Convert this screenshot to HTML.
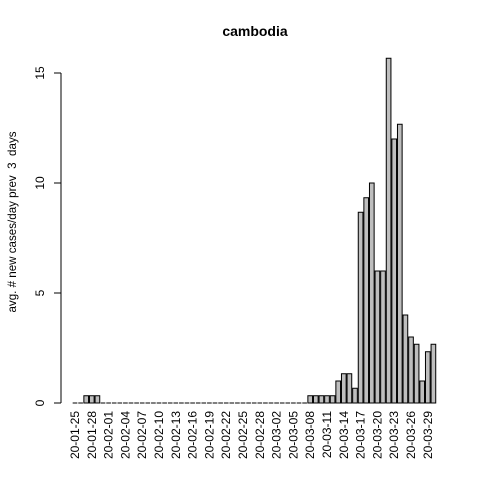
<!DOCTYPE html>
<html><head><meta charset="utf-8"><style>body{margin:0;background:#fff}svg{display:block}text{font-family:"Liberation Sans",sans-serif}</style></head>
<body>
<svg id="chart" width="480" height="480" xmlns="http://www.w3.org/2000/svg">
<rect width="480" height="480" fill="#fff"/>
<text x="255" y="36" font-size="14" font-weight="bold" text-anchor="middle">cambodia</text>
<text transform="translate(16,222) rotate(-90)" font-size="11.6" text-anchor="middle" style="white-space:pre">avg. # new cases/day prev  3  days</text>
<g id="bars"></g><g id="yaxis"></g><g id="xlabels"></g>
</svg>
<script>
const values = [0,0,0.33,0.33,0.33,0,0,0,0,0,0,0,0,0,0,0,0,0,0,0,0,0,0,0,0,0,0,0,0,0,0,0,0,0,0,0,0,0,0,0,0,0,
0.33,0.33,0.33,0.33,0.33,1,1.33,1.33,0.67,8.67,9.33,10,6,6,15.67,12,12.67,4,3,2.67,1,2.33,2.67];
const tickLabels = ["20-01-25","20-01-28","20-02-01","20-02-04","20-02-07","20-02-10","20-02-13","20-02-16","20-02-19","20-02-22","20-02-25","20-02-28","20-03-02","20-03-05","20-03-08","20-03-11","20-03-14","20-03-17","20-03-20","20-03-23","20-03-26","20-03-29"];
const yTicks = [0,5,10,15];
const NS="http://www.w3.org/2000/svg";
const xs = i => 75 + i*5.6;
const ys = v => 403 - v*22;
const bw = 4.67;
const bars=document.getElementById('bars');
values.forEach((v,i)=>{
  const y0=ys(0), y1=ys(v);
  if (Math.abs(y0-y1) < 0.5) {
    const l=document.createElementNS(NS,'line');
    
    
    l.setAttribute('x1',xs(i)-bw/2);l.setAttribute('x2',xs(i)+bw/2);
    l.setAttribute('y1',y0);l.setAttribute('y2',y0);
    l.setAttribute('stroke','#000');l.setAttribute('stroke-width','1');
    bars.appendChild(l);
    return;
  }
  const r=document.createElementNS(NS,'rect');
  
  
  r.setAttribute('x',xs(i)-bw/2);r.setAttribute('y',Math.min(y0,y1));
  r.setAttribute('width',bw);r.setAttribute('height',Math.abs(y0-y1));
  r.setAttribute('fill','#bebebe');r.setAttribute('stroke','#000');r.setAttribute('stroke-width','1');
  bars.appendChild(r);
});
const ya=document.getElementById('yaxis');
ya.innerHTML=`<line x1="61" y1="${ys(0)}" x2="61" y2="${ys(15)}" stroke="#000"/>`;
yTicks.forEach(t=>{
  const l=document.createElementNS(NS,'line');
  
  
  l.setAttribute('x1',54);l.setAttribute('x2',61);l.setAttribute('y1',ys(t));l.setAttribute('y2',ys(t));l.setAttribute('stroke','#000');
  ya.appendChild(l);
  const tx=document.createElementNS(NS,'text');
  
  
  tx.setAttribute('transform',`translate(44,${ys(t)}) rotate(-90)`);
  tx.setAttribute('text-anchor','middle');tx.setAttribute('font-size','12');
  tx.textContent=t;ya.appendChild(tx);
});
const xl=document.getElementById('xlabels');
tickLabels.forEach((s,k)=>{
  const tx=document.createElementNS(NS,'text');
  
  
  tx.setAttribute('transform',`translate(${xs(k*3)+4},411) rotate(-90)`);
  tx.setAttribute('text-anchor','end');tx.setAttribute('font-size','12');
  tx.textContent=s;xl.appendChild(tx);
});
</script>
</body></html>
